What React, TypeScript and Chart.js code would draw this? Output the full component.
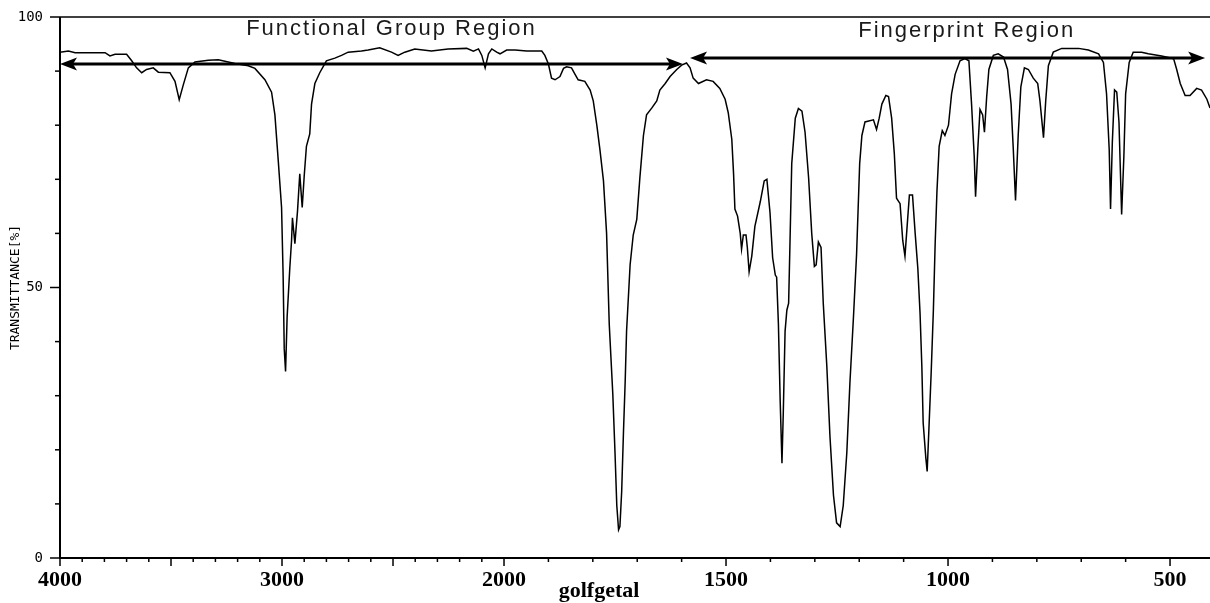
import React, { useEffect, useRef } from 'react';
import { Chart, LinearScale, registerables } from 'chart.js';

Chart.register(...registerables);

// ---------- Axis layout constants (wavenumber axis with 2x expansion below 2000) ----------
const WAVENUMBER_MAX = 4000;
const WAVENUMBER_MIN = 410;
const BREAK_AT = 2000;
const EXPANSION = 2;

// ---------- Data ----------
const WAVENUMBERS = [
  4000, 3962, 3932, 3797, 3775, 3752, 3700, 3677, 3655, 3632, 3610, 3580, 3557, 3505, 3482, 3463,
  3445, 3422, 3392, 3332, 3287, 3242, 3212, 3152, 3122, 3077, 3047, 3032, 3017, 3002, 2995, 2990,
  2984, 2977, 2965, 2957, 2953, 2942, 2930, 2920, 2909, 2900, 2890, 2875, 2867, 2852, 2830, 2800,
  2762, 2732, 2702, 2642, 2612, 2560, 2507, 2477, 2447, 2402, 2327, 2252, 2168, 2138, 2115, 2100,
  2085, 2070, 2055, 2033, 2018, 1994, 1975, 1949, 1915, 1908, 1900, 1893, 1885, 1874, 1866, 1859,
  1848, 1840, 1833, 1818, 1806, 1799, 1791, 1784, 1776, 1769, 1763, 1755, 1750, 1746, 1742, 1739,
  1735, 1731, 1727, 1724, 1716, 1709, 1701, 1694, 1686, 1679, 1667, 1656, 1649, 1637, 1626, 1611,
  1600, 1589, 1581, 1574, 1562, 1544, 1529, 1514, 1502, 1495, 1487, 1483, 1480, 1474, 1468, 1465,
  1461, 1455, 1452, 1448, 1442, 1435, 1423, 1414, 1408, 1401, 1395, 1389, 1386, 1382, 1378, 1374,
  1371, 1367, 1363, 1359, 1356, 1352, 1344, 1337, 1329, 1322, 1314, 1307, 1301, 1297, 1292, 1286,
  1281, 1273, 1266, 1258, 1251, 1243, 1236, 1228, 1221, 1213, 1206, 1199, 1194, 1187, 1168, 1161,
  1155, 1149, 1140, 1134, 1127, 1121, 1116, 1108, 1102, 1097, 1091, 1087, 1080, 1074, 1068, 1063,
  1059, 1056, 1050, 1047, 1043, 1038, 1033, 1029, 1025, 1020, 1013, 1007, 999, 992, 984, 973,
  962, 953, 947, 941, 938, 933, 928, 922, 918, 913, 908, 898, 887, 875, 866, 858,
  853, 848, 842, 836, 828, 819, 808, 798, 793, 787, 785, 780, 774, 763, 744, 706,
  684, 661, 650, 643, 637, 634, 630, 625, 620, 615, 609, 604, 600, 592, 583, 564,
  549, 519, 492, 485, 477, 466, 455, 440, 429, 417, 410,
];

const TRANSMITTANCE = [
  93.5, 93.7, 93.4, 93.4, 92.8, 93.1, 93.1, 91.9, 90.6, 89.7, 90.3, 90.6, 89.8, 89.7, 88.1, 84.7,
  87.4, 90.6, 91.7, 92.0, 92.1, 91.7, 91.4, 91.0, 90.5, 88.4, 86.1, 81.9, 73.5, 64.8, 52.3, 38.7,
  34.5, 44.5, 53.5, 58.7, 62.9, 58.1, 64.2, 71.0, 64.8, 70.6, 76.1, 78.4, 83.9, 87.7, 89.7, 91.9,
  92.4, 92.9, 93.5, 93.7, 93.9, 94.3, 93.5, 92.9, 93.5, 94.1, 93.7, 94.1, 94.2, 93.7, 94.1, 92.9,
  90.6, 93.2, 94.1, 93.5, 93.2, 93.9, 93.9, 93.7, 93.7, 92.9, 91.3, 88.7, 88.4, 89.0, 90.5, 90.8,
  90.6, 89.4, 88.4, 88.1, 86.5, 84.5, 80.0, 75.5, 69.7, 60.0, 43.2, 30.3, 19.4, 9.7, 5.2, 5.8,
  12.3, 23.2, 32.9, 41.9, 54.2, 59.7, 62.6, 70.3, 78.1, 81.9, 83.2, 84.5, 86.5, 87.7, 89.0, 90.3,
  91.1, 91.5, 90.6, 88.7, 87.7, 88.4, 88.1, 86.8, 84.8, 82.3, 77.4, 71.0, 64.5, 63.2, 60.0, 57.1,
  59.7, 59.7, 57.4, 52.9, 55.8, 61.3, 65.8, 69.7, 70.0, 63.9, 55.5, 52.3, 51.9, 43.2, 29.0, 17.5,
  27.0, 41.9, 45.8, 47.1, 58.1, 72.9, 81.3, 83.1, 82.6, 78.7, 70.3, 60.0, 53.9, 54.2, 58.4, 57.4,
  47.1, 35.5, 22.6, 11.6, 6.5, 5.8, 9.7, 19.4, 32.3, 44.5, 56.1, 72.9, 78.1, 80.6, 81.0, 79.2,
  81.3, 83.9, 85.5, 85.3, 81.3, 74.8, 66.5, 65.5, 58.7, 55.8, 62.6, 67.1, 67.1, 60.0, 53.5, 45.2,
  35.5, 25.0, 18.5, 16.0, 24.0, 34.2, 45.8, 58.1, 67.7, 76.1, 79.0, 78.1, 80.0, 85.8, 89.4, 91.9,
  92.3, 91.9, 83.9, 74.2, 66.8, 75.5, 82.9, 81.9, 78.7, 85.2, 90.3, 92.9, 93.2, 92.6, 90.3, 83.9,
  75.5, 66.1, 78.1, 87.1, 90.6, 90.3, 88.7, 87.7, 84.5, 79.4, 77.7, 84.5, 91.0, 93.5, 94.2, 94.2,
  93.9, 93.2, 91.6, 85.8, 75.5, 64.5, 76.8, 86.5, 86.1, 80.6, 63.5, 74.2, 85.8, 91.6, 93.5, 93.5,
  93.2, 92.8, 92.3, 90.3, 87.7, 85.5, 85.5, 86.8, 86.5, 84.8, 83.2,
];

// ---------- Ticks ----------
const X_TICKS = [
  4000, 3900, 3800, 3700, 3600, 3500, 3400, 3300, 3200, 3100, 3000, 2900, 2800, 2700, 2600, 2500,
  2400, 2300, 2200, 2100, 2000, 1900, 1800, 1700, 1600, 1500, 1400, 1300, 1200, 1100, 1000, 900,
  800, 700, 600, 500,
];
const X_MAJOR_TICKS = [4000, 3500, 3000, 2500, 2000, 1500, 1000, 500];
const X_TICK_LABELS = [4000, 3000, 2000, 1500, 1000, 500];
const Y_TICKS = [0, 10, 20, 30, 40, 50, 60, 70, 80, 90, 100];
const Y_MAJOR_TICKS = [0, 50, 100];
const Y_TICK_LABELS = [0, 50, 100];

// ---------- Texts / annotations ----------
const X_TITLE = 'golfgetal';
const X_TITLE_AT = 1786;
const Y_TITLE = 'TRANSMITTANCE[%]';
const REGION_NAMES = ['Functional Group Region', 'Fingerprint Region'];
const REGION_LABEL_CENTER = [2507, 958];
const REGION_LABEL_BASELINE = [96.7, 96.3];
const REGION_ARROW_FROM = [4000, 1581];
const REGION_ARROW_TO = [1597, 421];
const REGION_ARROW_LEVEL = [91.3, 92.4];

class WavenumberScale extends LinearScale {
  static id = 'wavenumber';
  static defaults = {};
  toUnit(v: number) {
    return v >= BREAK_AT
      ? WAVENUMBER_MAX - v
      : WAVENUMBER_MAX - BREAK_AT + (BREAK_AT - v) * EXPANSION;
  }
  getPixelForValue(value: number) {
    const span = this.toUnit(this.min);
    return this.left + (this.toUnit(value) / span) * this.width;
  }
  getValueForPixel(pixel: number) {
    const span = this.toUnit(this.min);
    const u = ((pixel - this.left) / this.width) * span;
    const first = WAVENUMBER_MAX - BREAK_AT;
    return u <= first ? WAVENUMBER_MAX - u : BREAK_AT - (u - first) / EXPANSION;
  }
}
Chart.register(WavenumberScale as any);

function drawArrowHead(ctx: CanvasRenderingContext2D, tipX: number, y: number, dir: number) {
  const len = 17;
  const half = 6.5;
  ctx.beginPath();
  ctx.moveTo(tipX, y);
  ctx.lineTo(tipX - dir * len, y - half);
  ctx.lineTo(tipX - dir * (len - 4), y);
  ctx.lineTo(tipX - dir * len, y + half);
  ctx.closePath();
  ctx.fill();
}

const decorPlugin = {
  id: 'irDecor',
  afterDraw(chart: any) {
    const { ctx, chartArea: a } = chart;
    const x = chart.scales.x;
    const y = chart.scales.y;
    ctx.save();
    ctx.strokeStyle = '#000';
    ctx.fillStyle = '#000';

    // frame: left + bottom axes, top line
    ctx.lineWidth = 2;
    ctx.beginPath();
    ctx.moveTo(a.left, a.top);
    ctx.lineTo(a.left, a.bottom);
    ctx.lineTo(a.right, a.bottom);
    ctx.stroke();
    ctx.lineWidth = 1.5;
    ctx.beginPath();
    ctx.moveTo(a.left, a.top);
    ctx.lineTo(a.right, a.top);
    ctx.stroke();

    // x tick marks
    ctx.lineWidth = 1.5;
    for (const v of X_TICKS) {
      const px = x.getPixelForValue(v);
      const len = X_MAJOR_TICKS.includes(v) ? 8 : 4;
      ctx.beginPath();
      ctx.moveTo(px, a.bottom);
      ctx.lineTo(px, a.bottom + len);
      ctx.stroke();
    }
    // y tick marks
    for (const v of Y_TICKS) {
      const py = y.getPixelForValue(v);
      const len = Y_MAJOR_TICKS.includes(v) ? 10 : 5;
      ctx.beginPath();
      ctx.moveTo(a.left - len, py);
      ctx.lineTo(a.left, py);
      ctx.stroke();
    }

    // region arrows
    ctx.lineWidth = 3;
    for (let i = 0; i < REGION_NAMES.length; i++) {
      const x1 = x.getPixelForValue(REGION_ARROW_FROM[i]);
      const x2 = x.getPixelForValue(REGION_ARROW_TO[i]);
      const py = y.getPixelForValue(REGION_ARROW_LEVEL[i]);
      ctx.beginPath();
      ctx.moveTo(x1 + 10, py);
      ctx.lineTo(x2 - 10, py);
      ctx.stroke();
      drawArrowHead(ctx, x1, py, -1);
      drawArrowHead(ctx, x2, py, 1);
    }

    // region labels
    ctx.font = '22px "Liberation Sans", Arial, sans-serif';
    (ctx as any).letterSpacing = '2px';
    ctx.textAlign = 'center';
    ctx.textBaseline = 'alphabetic';
    ctx.fillStyle = '#1a1a1a';
    for (let i = 0; i < REGION_NAMES.length; i++) {
      ctx.fillText(
        REGION_NAMES[i],
        x.getPixelForValue(REGION_LABEL_CENTER[i]),
        y.getPixelForValue(REGION_LABEL_BASELINE[i])
      );
    }
    (ctx as any).letterSpacing = '0px';

    // x axis title
    ctx.fillStyle = '#000';
    ctx.font = 'bold 22px "Liberation Serif", "Times New Roman", serif';
    ctx.fillText(X_TITLE, x.getPixelForValue(X_TITLE_AT), a.bottom + 39);
    ctx.restore();
  },
};

export default function App() {
  const canvasRef = useRef<HTMLCanvasElement | null>(null);

  useEffect(() => {
    const canvas = canvasRef.current;
    if (!canvas) return;
    const chart = new Chart(canvas, {
      type: 'line',
      data: {
        datasets: [
          {
            data: WAVENUMBERS.map((w, i) => ({ x: w, y: TRANSMITTANCE[i] })),
            borderColor: '#000',
            borderWidth: 1.5,
            pointRadius: 0,
            tension: 0,
            fill: false,
          },
        ],
      },
      options: {
        responsive: false,
        maintainAspectRatio: false,
        animation: false,
        devicePixelRatio: 1,
        layout: { padding: { top: 17, left: 0, right: 0, bottom: 0 } },
        plugins: { legend: { display: false }, tooltip: { enabled: false } },
        events: [],
        scales: {
          x: {
            type: 'wavenumber' as any,
            position: 'bottom',
            min: WAVENUMBER_MIN,
            max: WAVENUMBER_MAX,
            bounds: 'data',
            grid: { display: false, drawTicks: false },
            border: { display: false },
            afterBuildTicks: (scale: any) => {
              scale.ticks = X_TICKS.map((v) => ({ value: v }));
            },
            afterFit: (scale: any) => {
              scale.height = 45;
              scale.paddingLeft = 0;
              scale.paddingRight = 0;
            },
            ticks: {
              autoSkip: false,
              maxRotation: 0,
              minRotation: 0,
              padding: 9,
              color: '#000',
              font: { family: '"Liberation Serif", "Times New Roman", serif', size: 22, weight: 'bold' },
              callback: (value: any) => (X_TICK_LABELS.includes(Number(value)) ? String(value) : ''),
            },
          },
          y: {
            type: 'linear',
            min: 0,
            max: 100,
            grid: { display: false, drawTicks: false },
            border: { display: false },
            afterBuildTicks: (scale: any) => {
              scale.ticks = Y_TICKS.map((v) => ({ value: v }));
            },
            afterFit: (scale: any) => {
              scale.width = 60;
              scale.paddingTop = 0;
              scale.paddingBottom = 0;
            },
            ticks: {
              autoSkip: false,
              padding: 17,
              color: '#000',
              font: { family: '"DejaVu Sans Mono", monospace', size: 14 },
              callback: (value: any) => (Y_TICK_LABELS.includes(Number(value)) ? String(value) : ''),
            },
            title: {
              display: true,
              text: Y_TITLE,
              color: '#000',
              padding: { top: 8, bottom: 0 },
              font: { family: '"DejaVu Sans Mono", monospace', size: 13 },
            },
          },
        },
      },
      plugins: [decorPlugin],
    } as any);
    return () => chart.destroy();
  }, []);

  return (
    <div style={{ position: 'absolute', left: 0, top: 0, width: 1210, height: 603, background: '#fff' }}>
      <canvas ref={canvasRef} width={1210} height={603} style={{ display: 'block' }} />
    </div>
  );
}
